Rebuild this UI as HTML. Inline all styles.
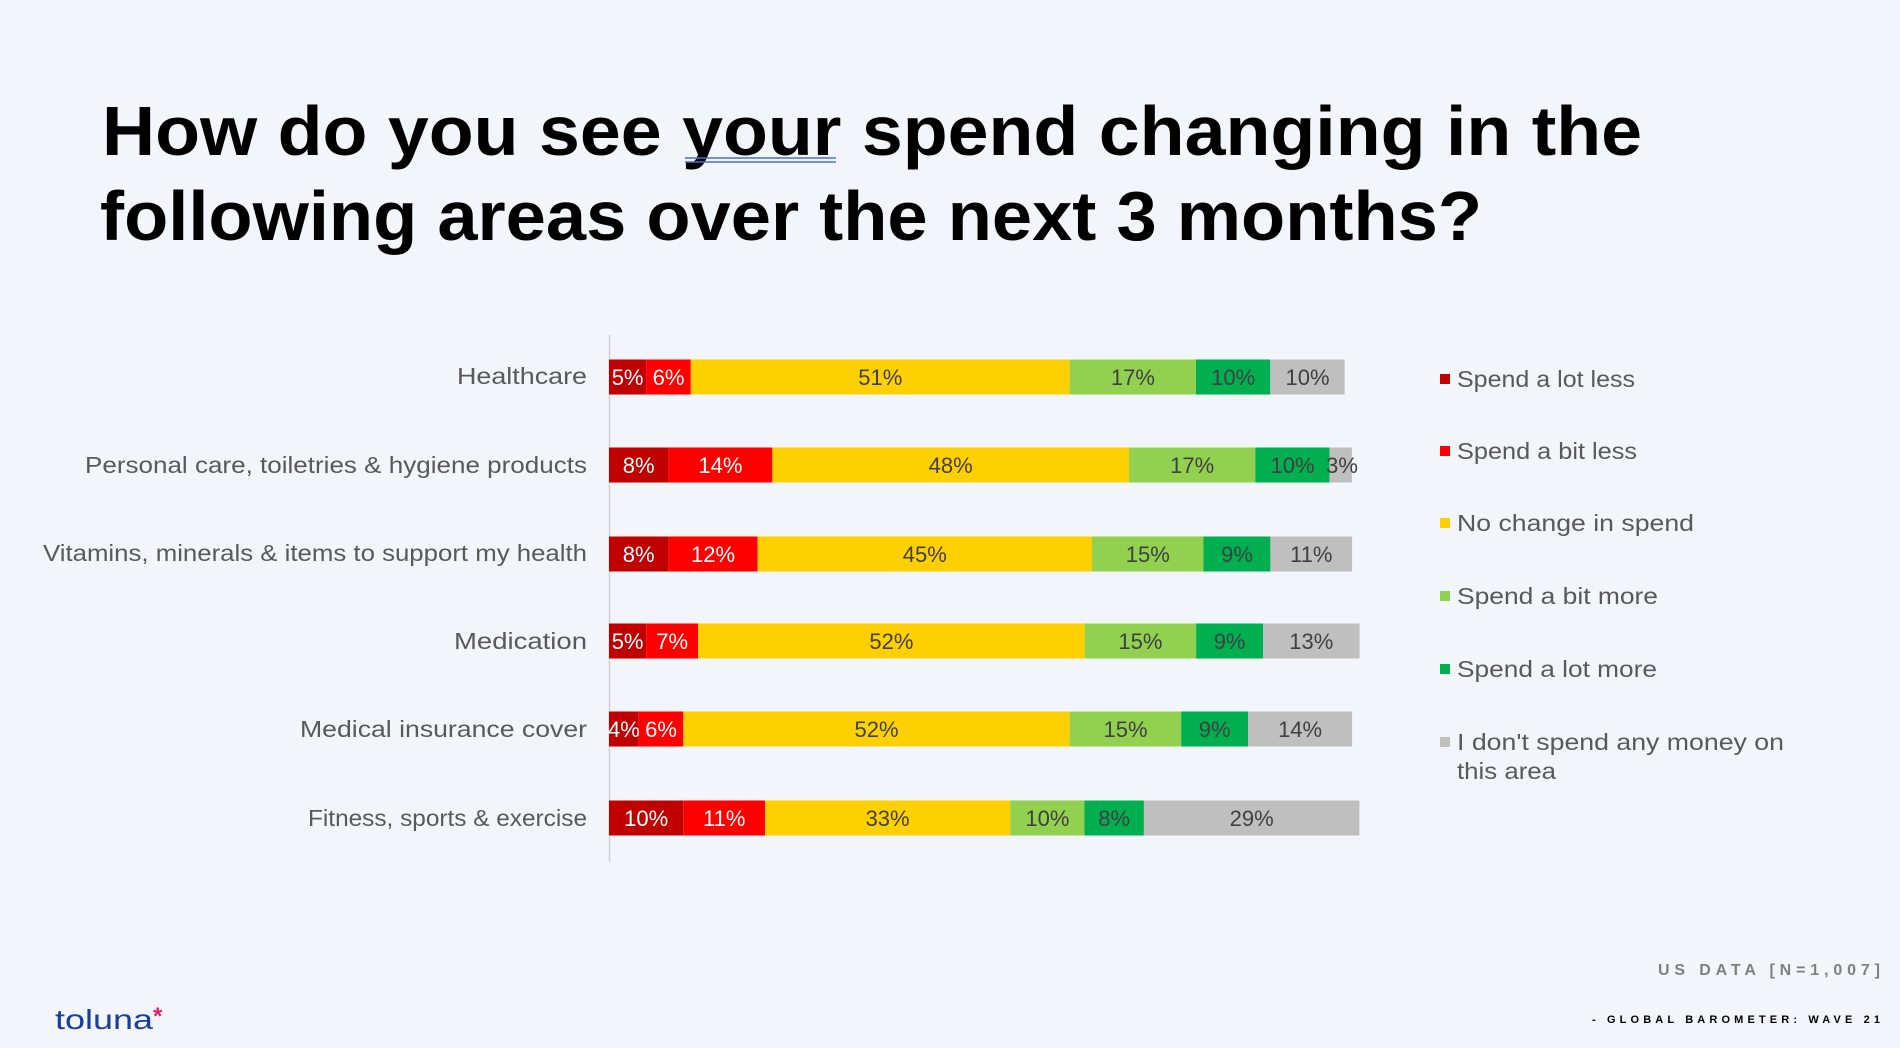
<!DOCTYPE html>
<html><head><meta charset="utf-8"><style>
html,body{margin:0;padding:0;background:#F2F5FA;}
svg{display:block}
text{font-family:"Liberation Sans",sans-serif}
.l{font-size:23px;fill:#595959;text-anchor:end}
.v{font-size:22px;text-anchor:middle;fill:#404040}
.w{fill:#fff}
.g{font-size:23px;fill:#595959}
</style></head><body>
<svg width="1900" height="1048" viewBox="0 0 1900 1048">
<rect width="1900" height="1048" fill="#F2F5FA"/>
<text x="102" y="155" font-size="70" font-weight="bold" fill="#000" textLength="1540" lengthAdjust="spacingAndGlyphs">How do you see your spend changing in the</text>
<text x="100" y="240" font-size="70" font-weight="bold" fill="#000" textLength="1382" lengthAdjust="spacingAndGlyphs">following areas over the next 3 months?</text>
<line x1="685" y1="158" x2="836" y2="158" stroke="#4a6fd0" stroke-width="1.5"/>
<line x1="685" y1="162" x2="836" y2="162" stroke="#4a6fd0" stroke-width="1.5"/>
<line x1="609.5" y1="335" x2="609.5" y2="862" stroke="#d0d0d0" stroke-width="1.5"/>

<text class="l" x="587" y="384" textLength="130" lengthAdjust="spacingAndGlyphs">Healthcare</text>
<text class="l" x="587" y="473" textLength="502" lengthAdjust="spacingAndGlyphs">Personal care, toiletries &amp; hygiene products</text>
<text class="l" x="587" y="561" textLength="544" lengthAdjust="spacingAndGlyphs">Vitamins, minerals &amp; items to support my health</text>
<text class="l" x="587" y="649" textLength="133" lengthAdjust="spacingAndGlyphs">Medication</text>
<text class="l" x="587" y="737" textLength="287" lengthAdjust="spacingAndGlyphs">Medical insurance cover</text>
<text class="l" x="587" y="826" textLength="279" lengthAdjust="spacingAndGlyphs">Fitness, sports &amp; exercise</text>

<g transform="translate(0,359.5)">
<rect x="609" width="37.2" height="35" fill="#C00000"/><rect x="646.2" width="44.6" height="35" fill="#FF0000"/><rect x="690.8" width="378.9" height="35" fill="#FFD000"/><rect x="1069.7" width="126.3" height="35" fill="#92D050"/><rect x="1196" width="74.3" height="35" fill="#00B050"/><rect x="1270.3" width="74.3" height="35" fill="#BFBFBF"/>
<text class="v w" x="627.6" y="25.5">5%</text><text class="v w" x="668.5" y="25.5">6%</text><text class="v" x="880.3" y="25.5">51%</text><text class="v" x="1132.9" y="25.5">17%</text><text class="v" x="1233.2" y="25.5">10%</text><text class="v" x="1307.5" y="25.5">10%</text>
</g>
<g transform="translate(0,447.5)">
<rect x="609" width="59.4" height="35" fill="#C00000"/><rect x="668.4" width="104" height="35" fill="#FF0000"/><rect x="772.4" width="356.6" height="35" fill="#FFD000"/><rect x="1129" width="126.3" height="35" fill="#92D050"/><rect x="1255.3" width="74.3" height="35" fill="#00B050"/><rect x="1329.6" width="22.3" height="35" fill="#BFBFBF"/>
<text class="v w" x="638.7" y="25.5">8%</text><text class="v w" x="720.4" y="25.5">14%</text><text class="v" x="950.7" y="25.5">48%</text><text class="v" x="1192.2" y="25.5">17%</text><text class="v" x="1292.5" y="25.5">10%</text><text class="v" x="1342" y="25.5">3%</text>
</g>
<g transform="translate(0,536.5)">
<rect x="609" width="59.4" height="35" fill="#C00000"/><rect x="668.4" width="89.2" height="35" fill="#FF0000"/><rect x="757.6" width="334.4" height="35" fill="#FFD000"/><rect x="1092" width="111.5" height="35" fill="#92D050"/><rect x="1203.5" width="66.9" height="35" fill="#00B050"/><rect x="1270.4" width="81.7" height="35" fill="#BFBFBF"/>
<text class="v w" x="638.7" y="25.5">8%</text><text class="v w" x="713" y="25.5">12%</text><text class="v" x="924.8" y="25.5">45%</text><text class="v" x="1147.8" y="25.5">15%</text><text class="v" x="1237" y="25.5">9%</text><text class="v" x="1311.3" y="25.5">11%</text>
</g>
<g transform="translate(0,623.5)">
<rect x="609" width="37.2" height="35" fill="#C00000"/><rect x="646.2" width="52" height="35" fill="#FF0000"/><rect x="698.2" width="386.4" height="35" fill="#FFD000"/><rect x="1084.6" width="111.5" height="35" fill="#92D050"/><rect x="1196.1" width="66.9" height="35" fill="#00B050"/><rect x="1263" width="96.6" height="35" fill="#BFBFBF"/>
<text class="v w" x="627.6" y="25.5">5%</text><text class="v w" x="672.2" y="25.5">7%</text><text class="v" x="891.4" y="25.5">52%</text><text class="v" x="1140.4" y="25.5">15%</text><text class="v" x="1229.6" y="25.5">9%</text><text class="v" x="1311.3" y="25.5">13%</text>
</g>
<g transform="translate(0,711.5)">
<rect x="609" width="29.7" height="35" fill="#C00000"/><rect x="638.7" width="44.6" height="35" fill="#FF0000"/><rect x="683.3" width="386.4" height="35" fill="#FFD000"/><rect x="1069.7" width="111.5" height="35" fill="#92D050"/><rect x="1181.2" width="66.9" height="35" fill="#00B050"/><rect x="1248.1" width="104" height="35" fill="#BFBFBF"/>
<text class="v w" x="623.9" y="25.5">4%</text><text class="v w" x="661" y="25.5">6%</text><text class="v" x="876.5" y="25.5">52%</text><text class="v" x="1125.5" y="25.5">15%</text><text class="v" x="1214.7" y="25.5">9%</text><text class="v" x="1300.1" y="25.5">14%</text>
</g>
<g transform="translate(0,800.5)">
<rect x="609" width="74.3" height="35" fill="#C00000"/><rect x="683.3" width="81.7" height="35" fill="#FF0000"/><rect x="765" width="245.2" height="35" fill="#FFD000"/><rect x="1010.2" width="74.3" height="35" fill="#92D050"/><rect x="1084.5" width="59.4" height="35" fill="#00B050"/><rect x="1143.9" width="215.5" height="35" fill="#BFBFBF"/>
<text class="v w" x="646.2" y="25.5">10%</text><text class="v w" x="724.2" y="25.5">11%</text><text class="v" x="887.6" y="25.5">33%</text><text class="v" x="1047.4" y="25.5">10%</text><text class="v" x="1114.2" y="25.5">8%</text><text class="v" x="1251.7" y="25.5">29%</text>
</g>

<rect x="1440" y="374" width="10" height="10" fill="#C00000"/><text class="g" x="1457" y="387" textLength="178" lengthAdjust="spacingAndGlyphs">Spend a lot less</text>
<rect x="1440" y="446" width="10" height="10" fill="#FF0000"/><text class="g" x="1457" y="459" textLength="180" lengthAdjust="spacingAndGlyphs">Spend a bit less</text>
<rect x="1440" y="518" width="10" height="10" fill="#FFD000"/><text class="g" x="1457" y="531" textLength="237" lengthAdjust="spacingAndGlyphs">No change in spend</text>
<rect x="1440" y="591" width="10" height="10" fill="#92D050"/><text class="g" x="1457" y="604" textLength="201" lengthAdjust="spacingAndGlyphs">Spend a bit more</text>
<rect x="1440" y="664" width="10" height="10" fill="#00B050"/><text class="g" x="1457" y="677" textLength="200" lengthAdjust="spacingAndGlyphs">Spend a lot more</text>
<rect x="1440" y="737" width="10" height="10" fill="#BFBFBF"/><text class="g" x="1457" y="750" textLength="327" lengthAdjust="spacingAndGlyphs">I don't spend any money on</text>
<text class="g" x="1457" y="779" textLength="99" lengthAdjust="spacingAndGlyphs">this area</text>

<text x="1880" y="975" font-size="16" font-weight="bold" fill="#808080" text-anchor="end" textLength="222" lengthAdjust="spacing">US DATA [N=1,007]</text>
<text x="1880" y="1023" font-size="11" font-weight="bold" fill="#000" text-anchor="end" textLength="288" lengthAdjust="spacing">- GLOBAL BAROMETER: WAVE 21</text>
<text x="55" y="1029" font-size="28" fill="#1a3d9e" textLength="98" lengthAdjust="spacingAndGlyphs">toluna</text>
<text x="153" y="1024" font-size="24" font-weight="bold" fill="#e0206a">*</text>
</svg>
</body></html>
